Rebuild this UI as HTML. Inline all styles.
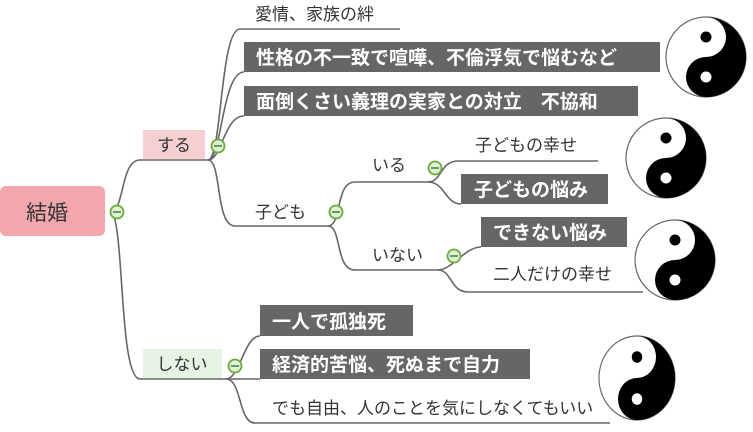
<!DOCTYPE html>
<html><head><meta charset="utf-8"><style>
html,body{margin:0;padding:0;background:#fff;width:753px;height:432px;overflow:hidden}
svg{display:block}
text{font-family:"Liberation Sans","Noto Sans CJK JP",sans-serif}
.t{font-size:17px;fill:#333}
.w{font-size:19px;fill:#fff;font-weight:bold}
.l{fill:none;stroke:#666;stroke-width:1.6}
.c{fill:#dff0d8;stroke:#6aab3a;stroke-width:1.8}
</style></head><body>
<svg width="753" height="432" viewBox="0 0 753 432" xmlns="http://www.w3.org/2000/svg">
<defs>
<g id="yy">
<circle r="40" fill="#fff" stroke="#666" stroke-width="1.2"/>
<path d="M0,-40 A40,40 0 0 1 0,40 A20,20 0 0 1 0,0 A20,20 0 0 0 0,-40Z" fill="#000"/>
<circle cy="-20" r="5.5" fill="#000"/>
<circle cy="20" r="5.5" fill="#fff"/>
</g>
</defs>
<path class="l" d="M110,212 C125,212 120,160 140,160 L210,160"/>
<path class="l" d="M110,212 C125,212 118,379 140,379 L228,379"/>
<path class="l" d="M208,160 C222,160 220,29 240,29 L400,29"/>
<path class="l" d="M208,160 C222,160 222,72 244,72"/>
<path class="l" d="M208,160 C222,160 224,116 244,116"/>
<path class="l" d="M208,160 C222,160 215,226 235,226 L330,226"/>
<path class="l" d="M328,226 C342,226 335,182 355,182 L430,182"/>
<path class="l" d="M328,226 C342,226 335,270 355,270 L440,270"/>
<path class="l" d="M428,182 C442,182 440,161 458,161 L598,161"/>
<path class="l" d="M428,182 C445,182 445,204 461,204"/>
<path class="l" d="M438,270 C452,270 465,247 481,247"/>
<path class="l" d="M438,270 C452,270 450,292 468,292 L643,292"/>
<path class="l" d="M226,379 C240,379 244,336 260,336"/>
<path class="l" d="M226,379 L260,379"/>
<path class="l" d="M226,379 C242,379 238,423 255,423 L610,423"/>
<rect x="0" y="186" width="105" height="50" rx="6" fill="#f2a7ad"/>
<text x="47" y="220" font-size="21" fill="#333" text-anchor="middle">結婚</text>
<rect x="143" y="130" width="62" height="29" fill="#f5cfd2"/>
<text x="174" y="151" class="t" text-anchor="middle">する</text>
<rect x="143" y="349" width="79" height="29" fill="#e6f2e4"/>
<text x="182" y="370" class="t" text-anchor="middle">しない</text>
<text x="255" y="20" class="t">愛情、家族の絆</text>
<rect x="244" y="42" width="416" height="30" fill="#666"/>
<text x="256" y="64" class="w">性格の不一致で喧嘩、不倫浮気で悩むなど</text>
<rect x="244" y="86" width="394" height="30" fill="#666"/>
<text x="256" y="108" class="w">面倒くさい義理の実家との対立　不協和</text>
<text x="255" y="218" class="t">子ども</text>
<text x="372" y="171" class="t">いる</text>
<text x="372" y="261" class="t">いない</text>
<text x="475" y="151" class="t">子どもの幸せ</text>
<rect x="461" y="174" width="147" height="30" fill="#666"/>
<text x="474" y="196" class="w">子どもの悩み</text>
<rect x="481" y="217" width="146" height="30" fill="#666"/>
<text x="493" y="239" class="w">できない悩み</text>
<text x="493" y="280" class="t">二人だけの幸せ</text>
<rect x="260" y="305" width="153" height="31" fill="#666"/>
<text x="272" y="328" class="w">一人で孤独死</text>
<rect x="260" y="349" width="270" height="30" fill="#666"/>
<text x="272" y="371" class="w">経済的苦悩、死ぬまで自力</text>
<text x="272" y="414" class="t">でも自由、人のことを気にしなくてもいい</text>
<g class="c"><circle cx="117" cy="212" r="6.5"/><circle cx="218" cy="146" r="6.5"/><circle cx="336" cy="212" r="6.5"/><circle cx="435" cy="168" r="6.5"/><circle cx="454" cy="256" r="6.5"/><circle cx="235" cy="366" r="6.5"/></g>
<g stroke="#4a7a2a" stroke-width="1.5"><line x1="113" y1="212" x2="121" y2="212"/><line x1="214" y1="146" x2="222" y2="146"/><line x1="332" y1="212" x2="340" y2="212"/><line x1="431" y1="168" x2="439" y2="168"/><line x1="450" y1="256" x2="458" y2="256"/><line x1="231" y1="366" x2="239" y2="366"/></g>
<use href="#yy" transform="translate(706,57)"/>
<use href="#yy" transform="translate(666,158)"/>
<use href="#yy" transform="translate(675,260)"/>
<use href="#yy" transform="translate(637,378) scale(0.95,1.05)"/>
</svg>
</body></html>
